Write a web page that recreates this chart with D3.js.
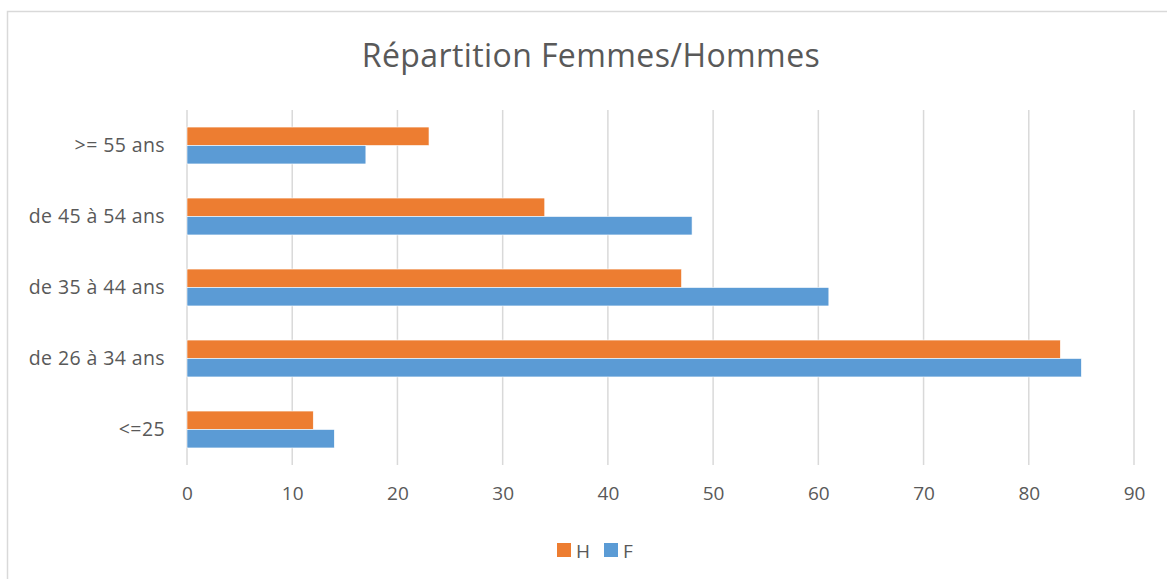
<!DOCTYPE html>
<html>
<head>
<meta charset="utf-8">
<script src="https://cdn.jsdelivr.net/npm/d3@7"></script>
<style>
  body { margin: 0; background: #fff; }
  text { font-family: "Open Sans", sans-serif; fill: #595959; }
</style>
</head>
<body>
<svg id="chart" width="1167" height="579"></svg>
<script>
var categories = [">= 55 ans", "de 45 à 54 ans", "de 35 à 44 ans", "de 26 à 34 ans", "<=25"];
var seriesNames = ["H", "F"];
var valuesH = [23, 34, 47, 83, 12];
var valuesF = [17, 48, 61, 85, 14];
var xTicks = [0, 10, 20, 30, 40, 50, 60, 70, 80, 90];
var colors = {H: "#ED7D31", F: "#5B9BD5"};

var svg = d3.select("#chart");

// chart border
svg.append("rect")
	.attr("x", 7.5).attr("y", 11.5)
	.attr("width", 1170).attr("height", 580)
	.attr("fill", "none")
	.attr("stroke", "#D9D9D9")
	.attr("stroke-width", 1.5);

var x = d3.scaleLinear().domain([0, 90]).range([187, 1134]);
var y = d3.scaleBand().domain(categories).range([110, 465]).paddingInner(0.48).paddingOuter(0.24);
var inner = d3.scaleBand().domain(seriesNames).range([0, y.bandwidth()]);

// gridlines
svg.append("g").selectAll("line")
	.data(xTicks)
	.enter().append("line")
	.attr("x1", function(d) { return x(d); })
	.attr("x2", function(d) { return x(d); })
	.attr("y1", 110).attr("y2", 465)
	.attr("stroke", "#D9D9D9")
	.attr("stroke-width", 1.5);

// bars
var rows = categories.map(function(c, i) { return {cat: c, H: valuesH[i], F: valuesF[i]}; });
var groups = svg.append("g").selectAll("g")
	.data(rows)
	.enter().append("g")
	.attr("transform", function(d) { return "translate(0," + y(d.cat) + ")"; });

groups.selectAll("rect")
	.data(function(d) { return seriesNames.map(function(s) { return {s: s, v: d[s]}; }); })
	.enter().append("rect")
	.attr("x", x(0))
	.attr("y", function(d) { return inner(d.s); })
	.attr("width", function(d) { return x(d.v) - x(0); })
	.attr("height", inner.bandwidth())
	.attr("fill", function(d) { return colors[d.s]; })
	.attr("stroke", "#fff")
	.attr("stroke-width", 0.6);

// x axis labels
var xAxis = svg.append("g")
	.attr("transform", "translate(0,465)")
	.call(d3.axisBottom(x).tickValues(xTicks).tickSize(0).tickPadding(22));
xAxis.select(".domain").remove();
xAxis.selectAll("text").style("font-size", "19px").attr("fill", "#595959")
	.style("font-family", "'Open Sans', sans-serif");

// y axis labels
var yAxis = svg.append("g")
	.attr("transform", "translate(187,0)")
	.call(d3.axisLeft(y).tickSize(0).tickPadding(22));
yAxis.select(".domain").remove();
yAxis.selectAll("text").style("font-size", "19.5px").attr("fill", "#595959")
	.style("font-family", "'Open Sans', sans-serif")
	.style("letter-spacing", "0.4px");

// title
svg.append("text")
	.attr("x", 591).attr("y", 67)
	.attr("text-anchor", "middle")
	.style("font-size", "32px")
	.style("letter-spacing", "0.4px")
	.text("Répartition Femmes/Hommes");

// legend
var legend = svg.append("g").selectAll("g")
	.data(seriesNames)
	.enter().append("g")
	.attr("transform", function(d, i) { return "translate(" + (557 + i * 47) + ",543)"; });
legend.append("rect")
	.attr("width", 14).attr("height", 14)
	.attr("fill", function(d) { return colors[d]; });
legend.append("text")
	.attr("x", 19).attr("y", 14.5)
	.style("font-size", "19px")
	.text(function(d) { return d; });
</script>
</body>
</html>
